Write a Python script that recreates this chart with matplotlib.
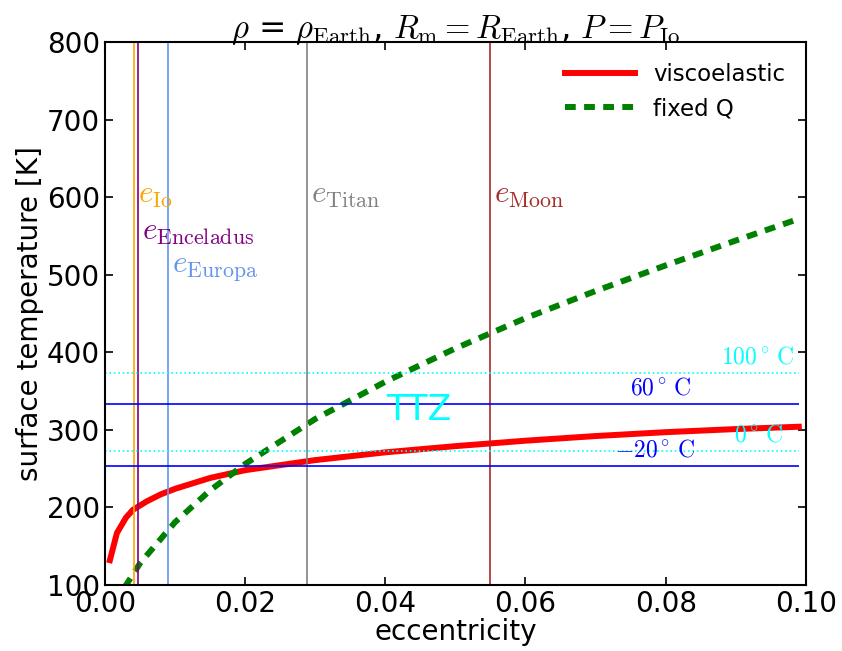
import matplotlib
matplotlib.use("Agg")
import matplotlib.pyplot as plt

plt.rcParams['mathtext.fontset'] = 'cm'

# data
e_visco = [0.0007, 0.0017, 0.003, 0.004, 0.006, 0.008, 0.01, 0.015, 0.02, 0.03,
           0.04, 0.05, 0.06, 0.07, 0.08, 0.09, 0.099]
T_visco = [132, 167, 187, 197, 208, 217, 224, 238, 248, 261,
           271, 279, 286, 292, 297, 301, 304]
e_fixed = [0.0028, 0.005, 0.01, 0.015, 0.02, 0.03, 0.04, 0.05, 0.06, 0.07,
           0.08, 0.09, 0.099]
T_fixed = [97, 128, 181, 222, 256, 314, 362, 405, 444, 479, 512, 544, 572]

moons = ['Io', 'Enceladus', 'Europa', 'Titan', 'Moon']
moon_e = [0.0041, 0.0047, 0.009, 0.0288, 0.0549]
moon_colors = ['orange', 'purple', 'cornflowerblue', 'grey', 'brown']
moon_label_T = [602, 555, 507, 602, 602]

temp_K = [373, 333, 273, 253]
temp_labels = [r'$100^\circ\,\mathrm{C}$', r'$60^\circ\,\mathrm{C}$',
               r'$0^\circ\,\mathrm{C}$', r'$-20^\circ\,\mathrm{C}$']
temp_colors = ['cyan', 'blue', 'cyan', 'blue']
temp_styles = [':', '-', ':', '-']
temp_label_x = [0.0984, 0.0837, 0.0969, 0.0842]

fig = plt.figure(figsize=(8.42, 6.51), dpi=100)
ax = fig.add_axes([0.1247, 0.1014, 0.8323, 0.8341])

ax.plot(e_visco, T_visco, color='red', lw=4.3, label='viscoelastic')
ax.plot(e_fixed, T_fixed, color='green', lw=4.3, ls=(0, (1.8, 1.4)), label='fixed Q')

for name, e, c, ty in zip(moons, moon_e, moon_colors, moon_label_T):
    ax.axvline(e, color=c, lw=1.2)
    ax.text(e + 0.0006, ty, r'$e_{\mathrm{%s}}$' % name, color=c, fontsize=22.5,
            va='center', ha='left')

for T, lab, c, ls, lx in zip(temp_K, temp_labels, temp_colors, temp_styles, temp_label_x):
    ax.hlines(T, 0, 0.099, colors=c, linestyles=ls, lw=1.2)
    ax.text(lx, T + 6, lab, color=c, fontsize=17, ha='right', va='bottom')

ax.text(0.0401, 326, 'TTZ', color='cyan', fontsize=25, ha='left', va='center')

ax.set_xlim(0, 0.1)
ax.set_ylim(100, 800)
ax.set_xticks([0.0, 0.02, 0.04, 0.06, 0.08, 0.1])
ax.set_xticklabels(['0.00', '0.02', '0.04', '0.06', '0.08', '0.10'])
ax.set_yticks(range(100, 801, 100))
ax.tick_params(direction='in', top=True, right=True, labelsize=20, length=6, width=1.2)
for s in ax.spines.values():
    s.set_linewidth(1.5)
ax.set_xlabel('eccentricity', fontsize=20, labelpad=0)
ax.set_ylabel('surface temperature [K]', fontsize=20, labelpad=2)
ax.set_title(r'$\rho$ = $\rho_{\rm Earth}$, $R_{\rm m}=R_{\rm Earth}$, $P=P_{\rm Io}$',
             fontsize=23.5, pad=3)
ax.legend(loc='upper right', frameon=False, fontsize=16.5, handlelength=3.05,
          borderaxespad=0.5)

fig.savefig('out.png', dpi=100)
